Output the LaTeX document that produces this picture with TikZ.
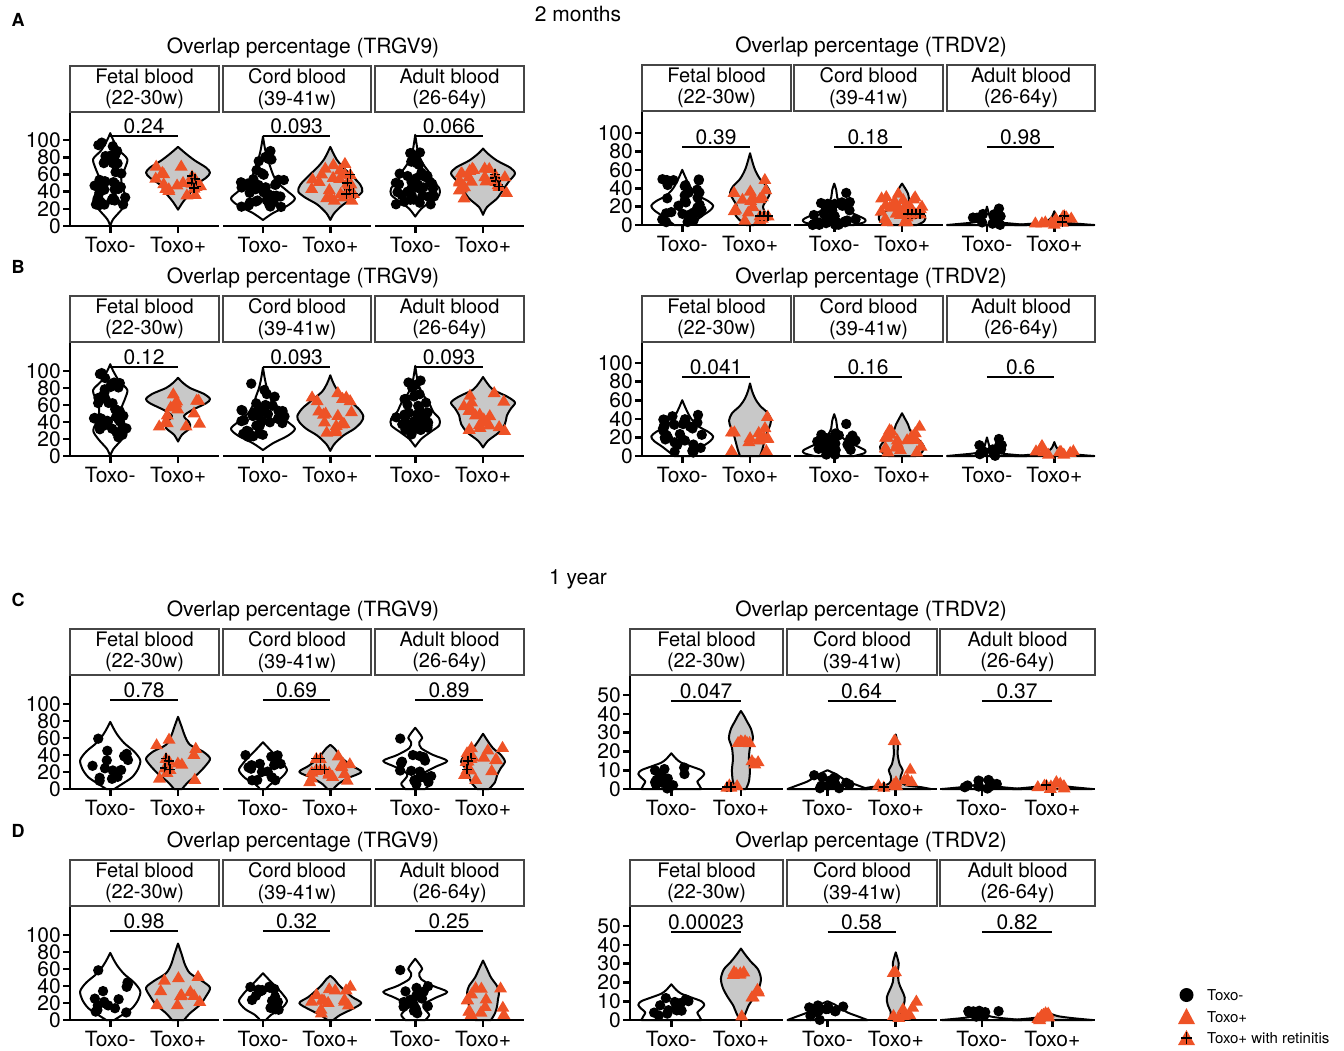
\documentclass[tikz,border=0pt]{standalone}
\usepackage{fontspec}
\setmainfont{TeX Gyre Heros}
\usepackage{tikz}
\definecolor{toxoorange}{RGB}{238,82,38}
\definecolor{violingrey}{RGB}{200,200,200}
\definecolor{stripedge}{RGB}{70,70,70}
\tikzstyle{axis_line} = [line width=2.6pt]
\tikzstyle{bracket_line} = [line width=2pt]
\tikzstyle{violin_neg} = [line width=2pt, line join=round]
\tikzstyle{violin_pos} = [line width=2pt, line join=round, fill=violingrey]
\tikzstyle{pt_neg} = [fill=black]
\tikzstyle{pt_pos} = [fill=toxoorange]
\tikzstyle{cross_mark} = [line width=1.6pt]
\tikzstyle{strip_box} = [draw=stripedge, line width=1.3pt, align=center, inner sep=0pt, minimum height=46pt, font=\fontsize{20}{21.5}\selectfont]
\tikzstyle{tick_label} = [inner sep=0pt, font=\fontsize{21}{21}\selectfont]
\tikzstyle{title_text} = [inner sep=0pt, font=\fontsize{21}{21}\selectfont]
\tikzstyle{p_label} = [inner sep=0pt, anchor=base, font=\fontsize{21}{21}\selectfont]
\tikzstyle{letter_label} = [inner sep=0pt, font=\fontsize{18}{18}\selectfont\bfseries]
\tikzstyle{legend_text} = [inner sep=0pt, anchor=west, font=\fontsize{15}{15}\selectfont]

% y axis of one group: name, tick values
\newcommand\yaxis[2]{%
  \draw[axis_line] (0pt,114pt) -- (0,0);
  \foreach \t in {#2}{
    \draw[axis_line] (0,\t) -- ++(-7pt,0pt);
    \node[tick_label, anchor=east] (#1y\t) at ([xshift=-9pt]0,\t) {\t};
  }}
% one facet: name, left, width, strip text, p value
\newcommand\facet[5]{%
  \pgfmathsetmacro\xn{#2+0.27*#3}
  \pgfmathsetmacro\xp{#2+0.725*#3}
  \pgfmathsetmacro\xm{(\xn+\xp)/2}
  \pgfmathsetmacro\xs{#2+#3/2}
  \node[strip_box, minimum width=#3pt] (#1s) at (\xs pt,137pt) {#4};
  \draw[axis_line] (#2,0) -- ({#2+#3},0);
  \draw[axis_line] (\xn,0) -- ++(0pt,-7pt) (\xp,0) -- ++(0pt,-7pt);
  \node[tick_label] (#1n) at (\xn pt,-19pt) {Toxo-};
  \node[tick_label] (#1p) at (\xp pt,-19pt) {Toxo+};
  \draw[bracket_line] (\xn,\brk) -- (\xp,\brk);
  \node[p_label] (#1v) at ([yshift=2pt]\xm,\brk) {#5};}
% violin: centre, style, value/halfwidth knots
\newcommand\vio[3]{%
  \gdef\vR{}\gdef\vL{}%
  \foreach \kv/\kw in {#3}{\xdef\vR{\vR (#1+\kw,\kv)}\xdef\vL{(#1-\kw,\kv) \vL}}%
  \draw[#2] plot[smooth] coordinates {\vR} -- plot[smooth] coordinates {\vL} -- cycle;}
% jittered points: centre, n/low/high/jitter/dx
\newcommand\negpts[2]{%
  \foreach \nn/\vlo/\vhi/\jj/\dx in {#2}{
    \foreach \k in {1,...,\nn}{
      \pgfmathsetmacro\px{#1+\dx+\jj*(2*rnd-1)}
      \pgfmathsetmacro\py{\vlo+(\vhi-\vlo)*rnd}
      \fill[pt_neg] (\px,\py) circle[radius=5.2pt];}}}
\newcommand\pospts[2]{%
  \foreach \nn/\vlo/\vhi/\jj/\dx in {#2}{
    \foreach \k in {1,...,\nn}{
      \pgfmathsetmacro\px{#1+\dx+\jj*(2*rnd-1)}
      \pgfmathsetmacro\py{\vlo+(\vhi-\vlo)*rnd}
      \fill[pt_pos] (\px,\py) ++(0pt,6.5pt) -- ++(-6.5pt,-11pt) -- ++(13pt,0pt) -- cycle;}}}
% retinitis marks: centre, dx/value
\newcommand\retpts[2]{%
  \foreach \dx/\kv in {#2}{
    \fill[pt_pos] (#1+\dx,\kv) ++(0pt,6.5pt) -- ++(-6.5pt,-11pt) -- ++(13pt,0pt) -- cycle;
    \draw[cross_mark] (#1+\dx,\kv) ++(-5pt,0pt) -- ++(10pt,0pt) (#1+\dx,\kv) ++(0pt,-5pt) -- ++(0pt,10pt);}}

\begin{document}
\begin{tikzpicture}[x=1pt,y=-1pt]
\useasboundingbox (0,0) rectangle (1344,1050);
\pgfmathsetseed{11}

\node[letter_label] (A) at (18,20) {A};
\node[letter_label] (B) at (18,267) {B};
\node[letter_label] (C) at (18,600) {C};
\node[letter_label] (D) at (18,831) {D};
\node[title_text] (M2) at (578,14) {2 months};
\node[title_text] (Y1) at (578,579) {1 year};

% A, TRGV9
\begin{scope}[shift={(70,226)},y=0.86pt]
\yaxis{A1}{0,20,...,100}
\node[title_text] (A1t) at (233pt,178pt) {Overlap percentage (TRGV9)};
\def\brk{105}
\facet{A1f}{0}{149}{Fetal blood\\(22-30w)}{0.24}
\vio{\xn}{violin_neg}{0/0,8/3,20/12,30/17,42/13,55/11,68/15,78/17,88/9,100/3,108/0}
\vio{\xp}{violin_pos}{19/0,28/5,38/12,48/18,56/28,62/32,68/28,76/17,84/8,92/0}
\negpts{\xn}{28/22/65/17/0,12/65/100/12/0}
\pospts{\xp}{16/35/78/24/0}
\retpts{\xp}{14/58,17/55,14/50,18/46,16/44}
\facet{A1c}{153}{148}{Cord blood\\(39-41w)}{0.093}
\vio{\xn}{violin_neg}{7/0,15/10,24/25,32/32,40/25,50/15,60/10,70/7,80/4,90/2,104/0}
\vio{\xp}{violin_pos}{7/0,15/4,25/13,33/25,40/32,48/30,58/22,68/13,78/6,92/0}
\negpts{\xn}{30/22/55/22/0,8/55/88/12/0}
\pospts{\xp}{20/28/75/22/0}
\retpts{\xp}{20/60,17/50,19/42,23/38,16/37}
\facet{A1a}{305}{149}{Adult blood\\(26-64y)}{0.066}
\vio{\xn}{violin_neg}{11/0,20/6,28/15,36/24,44/24,52/18,62/14,72/8,85/3,106/0}
\vio{\xp}{violin_pos}{13/0,22/4,32/14,42/20,52/26,61/32,68/27,76/14,84/5,90/0}
\negpts{\xn}{30/25/65/20/0,8/65/92/12/0}
\pospts{\xp}{20/32/78/24/0}
\retpts{\xp}{12/60,12/56,13/52,15/48,16/46}
\end{scope}

% A, TRDV2
\begin{scope}[shift={(642,225)},y=0.92pt]
\yaxis{A2}{0,20,...,100}
\node[title_text] (A2t) at (229pt,178pt) {Overlap percentage (TRDV2)};
\def\brk{85}
\facet{A2f}{0}{149}{Fetal blood\\(22-30w)}{0.39}
\vio{\xn}{violin_neg}{0/8,5/14,10/20,16/28,21/31,26/26,32/16,40/9,50/4,60/0}
\vio{\xp}{violin_pos}{0/4,5/10,12/15,20/13,28/17,35/20,42/17,50/10,60/5,70/2,78/0}
\negpts{\xn}{30/3/50/20/0}
\pospts{\xp}{16/5/50/22/0}
\retpts{\xp}{10/10,14/10,18/10}
\facet{A2c}{152}{149}{Cord blood\\(39-41w)}{0.18}
\vio{\xn}{violin_neg}{0/20,3/30,6/31,10/24,15/14,20/8,25/5,30/3,38/2,45/0}
\vio{\xp}{violin_pos}{0/15,4/22,10/23,16/15,22/8,28/7,34/6,40/3,45/0}
\negpts{\xn}{30/0/25/22/0,1/34/36/0/12}
\pospts{\xp}{25/3/35/22/0}
\retpts{\xp}{6/12,10/12,14/12,18/12}
\facet{A2a}{305}{148}{Adult blood\\(26-64y)}{0.98}
\vio{\xn}{violin_neg}{0/40,1/30,3/12,6/4,12/2,20/0}
\vio{\xp}{violin_pos}{0/40,1/28,3/10,8/3,15/0}
\negpts{\xn}{12/0/12/16/0,1/17/19/0/12}
\pospts{\xp}{10/0/12/20/0}
\retpts{\xp}{10/10,8/3}
\end{scope}

% B, TRGV9
\begin{scope}[shift={(70,456)},y=0.85pt]
\yaxis{B1}{0,20,...,100}
\node[title_text] (B1t) at (233pt,178pt) {Overlap percentage (TRGV9)};
\def\brk{105}
\facet{B1f}{0}{149}{Fetal blood\\(22-30w)}{0.12}
\vio{\xn}{violin_neg}{0/0,8/3,20/12,30/17,42/13,55/11,68/15,78/17,88/9,100/3,108/0}
\vio{\xp}{violin_pos}{17/0,25/4,33/12,40/11,47/6,54/14,62/28,67/32,73/26,80/12,86/5,92/0}
\negpts{\xn}{28/22/65/17/0,12/65/100/12/0}
\pospts{\xp}{14/32/78/22/0}
\facet{B1c}{153}{148}{Cord blood\\(39-41w)}{0.093}
\vio{\xn}{violin_neg}{7/0,15/10,24/25,32/32,40/25,50/15,60/10,70/7,80/4,90/2,104/0}
\vio{\xp}{violin_pos}{6/0,14/4,24/13,32/24,40/31,47/33,56/28,66/18,76/8,86/3,95/0}
\negpts{\xn}{30/22/55/22/0,8/55/88/12/0}
\pospts{\xp}{18/28/75/22/0}
\facet{B1a}{305}{149}{Adult blood\\(26-64y)}{0.093}
\vio{\xn}{violin_neg}{11/0,20/6,28/15,36/24,44/24,52/18,62/14,72/8,85/3,106/0}
\vio{\xp}{violin_pos}{10/0,18/5,28/16,38/22,48/24,56/28,63/32,70/24,78/10,86/4,93/0}
\negpts{\xn}{30/25/65/20/0,8/65/92/12/0}
\pospts{\xp}{18/30/75/24/0}
\end{scope}

% B, TRDV2
\begin{scope}[shift={(642,456)},y=0.93pt]
\yaxis{B2}{0,20,...,100}
\node[title_text] (B2t) at (229pt,178pt) {Overlap percentage (TRDV2)};
\def\brk{85}
\facet{B2f}{0}{149}{Fetal blood\\(22-30w)}{0.041}
\vio{\xn}{violin_neg}{0/8,5/14,10/20,16/28,21/31,26/26,32/16,40/9,50/4,60/0}
\vio{\xp}{violin_pos}{0/10,6/12,14/14,22/16,30/19,38/21,46/18,54/10,62/5,70/2,78/0}
\negpts{\xn}{30/3/45/20/0}
\pospts{\xp}{14/5/50/20/0}
\facet{B2c}{152}{149}{Cord blood\\(39-41w)}{0.16}
\vio{\xn}{violin_neg}{0/20,3/30,6/31,10/24,15/14,20/8,25/5,30/3,38/2,45/0}
\vio{\xp}{violin_pos}{0/14,4/20,10/22,16/18,22/12,28/8,34/6,40/3,46/0}
\negpts{\xn}{30/0/25/22/0,1/34/36/0/12}
\pospts{\xp}{22/3/35/22/0}
\facet{B2a}{305}{148}{Adult blood\\(26-64y)}{0.6}
\vio{\xn}{violin_neg}{0/40,1/30,3/12,6/4,12/2,20/0}
\vio{\xp}{violin_pos}{0/40,1/28,3/10,8/3,15/0}
\negpts{\xn}{12/0/12/16/0,1/17/19/0/12}
\pospts{\xp}{10/0/12/20/0}
\end{scope}

% C, TRGV9
\begin{scope}[shift={(70,789)},y=0.85pt]
\yaxis{C1}{0,20,...,100}
\node[title_text] (C1t) at (233pt,178pt) {Overlap percentage (TRGV9)};
\def\brk{105}
\facet{C1f}{0}{149}{Fetal blood\\(22-30w)}{0.78}
\vio{\xn}{violin_neg}{0/4,6/12,14/22,24/28,34/30,44/24,54/14,64/7,72/3,79/0}
\vio{\xp}{violin_pos}{0/4,8/10,18/20,28/28,36/32,44/25,52/12,62/7,72/4,85/0}
\negpts{\xn}{14/8/45/18/0,1/58/60/0/-12}
\pospts{\xp}{9/5/65/22/0}
\retpts{\xp}{-12/36,-9/33,-13/25,-8/23}
\facet{C1c}{153}{148}{Cord blood\\(39-41w)}{0.69}
\vio{\xn}{violin_neg}{0/3,6/8,13/18,22/24,30/20,38/14,45/8,50/4,55/0}
\vio{\xp}{violin_pos}{0/3,6/8,13/18,20/31,27/22,35/13,42/8,48/4,52/0}
\negpts{\xn}{16/8/40/18/0}
\pospts{\xp}{14/5/42/22/0}
\retpts{\xp}{-14/36,-10/36,-14/23,-10/23,-6/23}
\facet{C1a}{305}{149}{Adult blood\\(26-64y)}{0.89}
\vio{\xn}{violin_neg}{0/10,6/14,12/10,18/8,26/20,33/32,40/18,48/6,55/4,60/7,66/4,72/0}
\vio{\xp}{violin_pos}{0/6,8/12,16/14,25/18,32/22,40/18,48/10,56/5,65/0}
\negpts{\xn}{16/5/40/16/0,1/58/62/0/-15}
\pospts{\xp}{14/5/50/22/0}
\retpts{\xp}{-12/36,-15/33,-16/23}
\end{scope}

% C, TRDV2
\begin{scope}[shift={(630,789)},y=1.88pt]
\yaxis{C2}{0,10,...,50}
\node[title_text] (C2t) at (241pt,178pt) {Overlap percentage (TRDV2)};
\def\brk{47}
\facet{C2f}{0}{153}{Fetal blood\\(22-30w)}{0.047}
\vio{\xn}{violin_neg}{0/30,2/28,4/26,6/30,8/33,10/30,12/20,14/10,16/5,19/0}
\vio{\xp}{violin_pos}{0/5,4/8,10/9,16/8,22/9,27/12,32/10,36/6,39/3,41.5/0}
\negpts{\xn}{14/0/12/18/0}
\pospts{\xp}{6/24/26/9/0,3/12/16/4/14,2/1/3/6/-8}
\retpts{\xp}{-14/1,-10/1}
\facet{C2c}{157}{150}{Cord blood\\(39-41w)}{0.64}
\vio{\xn}{violin_neg}{0/40,2/30,4/20,6/14,8/8,10/0}
\vio{\xp}{violin_pos}{0/35,1/25,2/10,4/5,7/5,10/7,13/4,18/2,24/2,29/0}
\negpts{\xn}{12/0/8/22/0}
\pospts{\xp}{2/24/26/2/0,4/3/11/8/15,4/0/4/14/-5}
\retpts{\xp}{-12/1}
\facet{C2a}{310}{155}{Adult blood\\(26-64y)}{0.37}
\vio{\xn}{violin_neg}{0/40,1/20,2/8,4/3,6/0}
\vio{\xp}{violin_pos}{0/40,1/20,2/6,3/0}
\negpts{\xn}{10/0/5/18/0}
\pospts{\xp}{8/0/4/16/0}
\retpts{\xp}{-6/2}
\end{scope}

% D, TRGV9
\begin{scope}[shift={(70,1020)},y=0.85pt]
\yaxis{D1}{0,20,...,100}
\node[title_text] (D1t) at (233pt,178pt) {Overlap percentage (TRGV9)};
\def\brk{105}
\facet{D1f}{0}{149}{Fetal blood\\(22-30w)}{0.98}
\vio{\xn}{violin_neg}{0/4,6/12,14/22,24/28,34/30,44/24,54/14,64/7,72/3,79/0}
\vio{\xp}{violin_pos}{0/6,8/12,18/22,28/28,38/32,46/24,55/12,65/7,76/4,90/0}
\negpts{\xn}{14/8/45/18/0,1/58/60/0/-12}
\pospts{\xp}{11/5/65/22/0}
\facet{D1c}{153}{148}{Cord blood\\(39-41w)}{0.32}
\vio{\xn}{violin_neg}{0/3,6/8,13/18,22/24,30/20,38/14,45/8,50/4,55/0}
\vio{\xp}{violin_pos}{0/3,6/10,13/22,20/31,27/22,35/14,42/8,48/4,52/0}
\negpts{\xn}{16/8/40/18/0}
\pospts{\xp}{14/5/40/22/0}
\facet{D1a}{305}{149}{Adult blood\\(26-64y)}{0.25}
\vio{\xn}{violin_neg}{0/10,6/14,12/10,18/8,26/20,33/32,40/18,48/6,55/4,60/7,66/4,72/0}
\vio{\xp}{violin_pos}{0/8,8/12,16/14,25/15,32/16,40/14,50/8,60/4,70/0}
\negpts{\xn}{16/5/40/16/0,1/58/62/0/-15}
\pospts{\xp}{14/5/45/24/0}
\end{scope}

% D, TRDV2
\begin{scope}[shift={(630,1020)},y=1.88pt]
\yaxis{D2}{0,10,...,50}
\node[title_text] (D2t) at (241pt,178pt) {Overlap percentage (TRDV2)};
\def\brk{47}
\facet{D2f}{0}{153}{Fetal blood\\(22-30w)}{0.00023}
\vio{\xn}{violin_neg}{0/30,2/28,4/26,6/30,8/33,10/30,12/20,14/10,16/5,19/0}
\vio{\xp}{violin_pos}{0/1,3/4,8/8,12/13,17/18,22/20,27/17,31/10,35/4,38/0}
\negpts{\xn}{14/0/12/18/0}
\pospts{\xp}{6/24/26/9/-5,4/10/17/6/12,1/1/3/1/0}
\facet{D2c}{157}{150}{Cord blood\\(39-41w)}{0.58}
\vio{\xn}{violin_neg}{0/40,2/30,4/20,6/14,8/8,10/0}
\vio{\xp}{violin_pos}{0/6,4/5,8/8,12/9,16/6,20/3,26/2,30/3,36/0}
\negpts{\xn}{12/0/8/22/0}
\pospts{\xp}{2/24/26/8/-8,5/2/11/9/14,3/0/3/10/0}
\facet{D2a}{310}{155}{Adult blood\\(26-64y)}{0.82}
\vio{\xn}{violin_neg}{0/40,1/20,2/8,4/3,6/0}
\vio{\xp}{violin_pos}{0/40,1/20,2/6,3/0}
\negpts{\xn}{10/0/5/18/0}
\pospts{\xp}{8/0/4/16/0}
\end{scope}

% legend
\fill[pt_neg] (1186.5,995) circle[radius=7pt];
\node[legend_text] (L1) at (1207,995) {Toxo-};
\fill[pt_pos] (1186.5,1008) -- (1178,1024) -- (1195,1024) -- cycle;
\node[legend_text] (L2) at (1207,1017) {Toxo+};
\fill[pt_pos] (1186.5,1030) -- (1178,1045) -- (1195,1045) -- cycle;
\draw[cross_mark] (1181,1038) -- (1192,1038) (1186.5,1032) -- (1186.5,1044);
\node[legend_text] (L3) at (1207,1038) {Toxo+ with retinitis};
\end{tikzpicture}
\end{document}
